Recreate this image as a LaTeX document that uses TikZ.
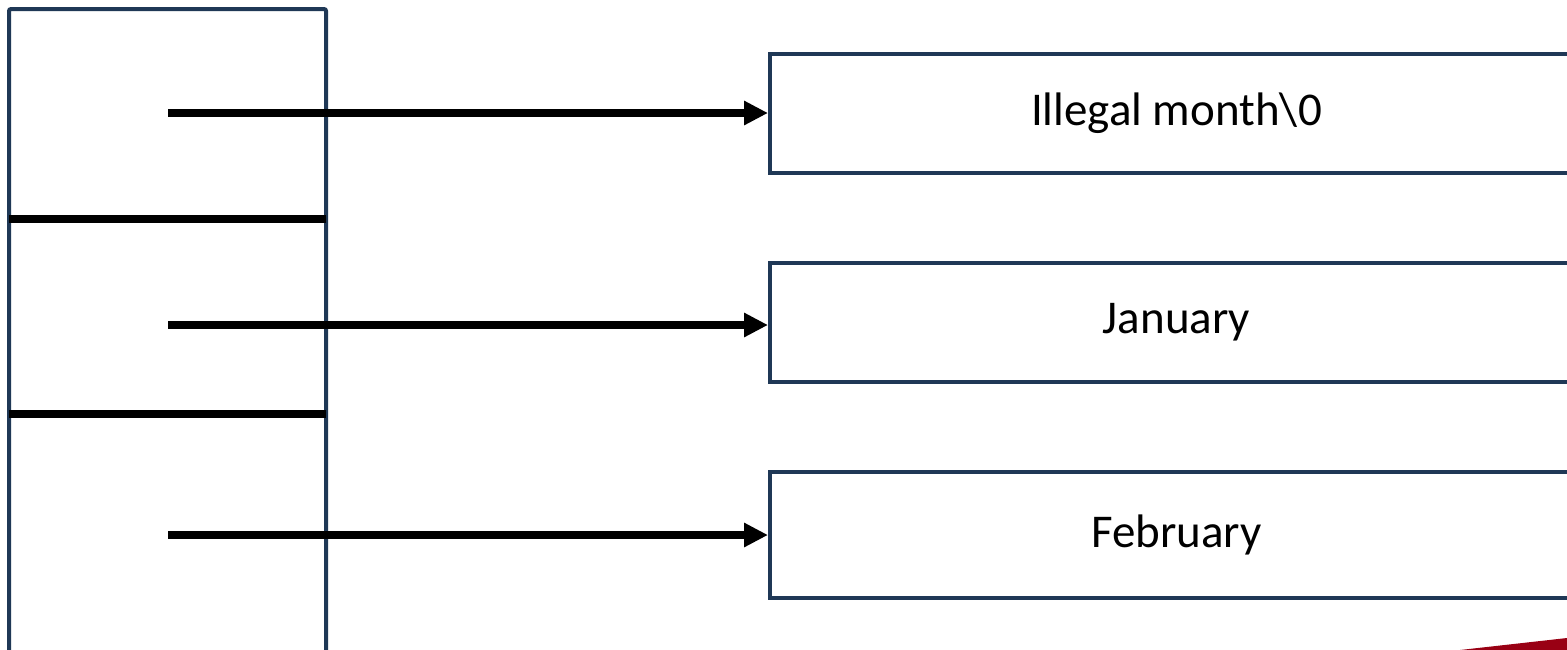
\documentclass[tikz,border=0pt]{standalone}
\usepackage{fontspec}
\setmainfont{Carlito}
\usetikzlibrary{arrows.meta}
\definecolor{framenavy}{HTML}{1F3856}
\definecolor{accentred}{HTML}{990014}
\tikzset{
  cell/.style={draw=framenavy, line width=4pt, fill=white, minimum width=813pt,
    minimum height=119pt, inner sep=0pt, font=\fontsize{47}{56}\selectfont},
  divider/.style={line width=7.5pt, black},
  pointer/.style={line width=7.5pt, black, -{Triangle[length=24pt,width=23pt]}},
}
\begin{document}
\begin{tikzpicture}[x=1pt,y=-1pt]
\useasboundingbox (0,0) rectangle (1567,649);
\clip (0,0) rectangle (1567,649);
\fill[white] (0,0) rectangle (1567,649);
% the array of pointers
\draw[framenavy, line width=4pt, rounded corners=2pt] (9,665) -- (9,9) -- (326,9) -- (326,665);
\coordinate (d1l) at (9,219);  \coordinate (d1r) at (326,219);
\coordinate (d2l) at (9,414);  \coordinate (d2r) at (326,414);
\draw[divider] (d1l) -- (d1r);
\draw[divider] (d2l) -- (d2r);
% the strings
\node[cell] (s0) at (1176.5,113.5) {Illegal month\textbackslash 0};
\node[cell] (s1) at (1176.5,322.5) {January};
\node[cell, minimum height=126pt] (s2) at (1176.5,535) {February};
% pointers from the array cells
\coordinate (p0) at (168,113);
\coordinate (p1) at (168,325);
\coordinate (p2) at (168,535);
\draw[pointer] (p0) -- (p0 -| s0.west);
\draw[pointer] (p1) -- (p1 -| s1.west);
\draw[pointer] (p2) -- (p2 -| s2.west);
% corner accent
\fill[accentred] (1460,650) -- (1567,638) -- (1567,650) -- cycle;
\end{tikzpicture}
\end{document}
